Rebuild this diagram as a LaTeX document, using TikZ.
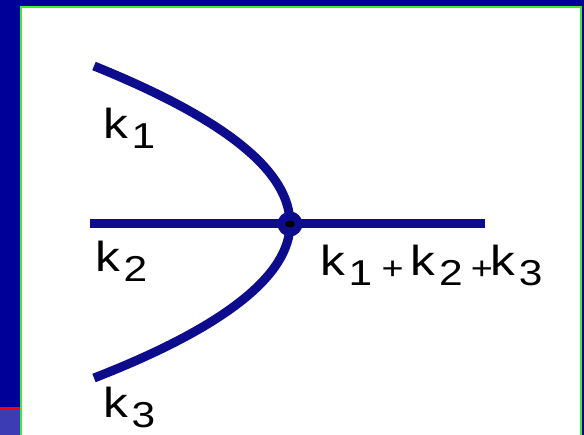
\documentclass[tikz,border=0pt]{standalone}
\usepackage{fontspec}
\setmainfont{Liberation Sans}
\definecolor{slideblue}{RGB}{0,0,153}
\definecolor{stripblue}{RGB}{60,60,180}
\definecolor{framegreen}{RGB}{60,235,60}
\definecolor{wireblue}{RGB}{12,12,140}
\newcommand{\ksub}[1]{k\hspace{3pt}\raisebox{-10pt}{\fontsize{36}{36}\selectfont #1}}
\newcommand{\kplus}{\raisebox{-4pt}{\fontsize{32}{32}\selectfont +}}

\begin{document}
\begin{tikzpicture}[
    x=1pt,
    y=-1pt,
    branch/.style={draw=wireblue, line width=9pt},
    hub/.style={circle, fill=wireblue, minimum size=25pt, inner sep=0pt},
    klabel/.style={anchor=base west, inner sep=0pt, xscale=1.18, font=\fontsize{42}{46}\selectfont}
  ]
  \useasboundingbox (0,0) rectangle (584,435);

  % slide background and frame
  \fill[slideblue] (0,0) rectangle (584,435);
  \fill[stripblue] (0,408) rectangle (20,435);
  \draw[red, line width=1.2pt] (0,408) -- (20,408);
  \fill[white] (21,7) rectangle (581,435);
  \draw[framegreen, line width=2pt] (21,440) -- (21,7) -- (581,7) -- (581,440);

  % end points of the three branches and the junction
  \coordinate (e1) at (94,66);
  \coordinate (e2) at (90,224);
  \coordinate (e3) at (94,378);
  \coordinate (j)  at (290,224);
  \coordinate (out) at (485,224);

  % branches
  \draw[branch] (e1) .. controls +(131,53) and +(0,-53) .. (j);
  \draw[branch] (j) .. controls +(0,51) and +(131,-51) .. (e3);
  \draw[branch] (e2) -- (out);

  % junction
  \node[hub] (hub) at (j) {};
  \fill[black] (hub.center) ellipse (5pt and 3.5pt);

  % labels
  \node[klabel] (k1) at (103,139) {\ksub{1}};
  \node[klabel] (k2) at (95,272) {\ksub{2}};
  \node[klabel] (k3) at (103,418) {\ksub{3}};
  \node[klabel] (sum) at (320,276)
    {\ksub{1}\hspace{8pt}\kplus\hspace{6pt}\ksub{2}\hspace{7pt}\kplus\hspace{-2pt}\ksub{3}};

\end{tikzpicture}
\end{document}
